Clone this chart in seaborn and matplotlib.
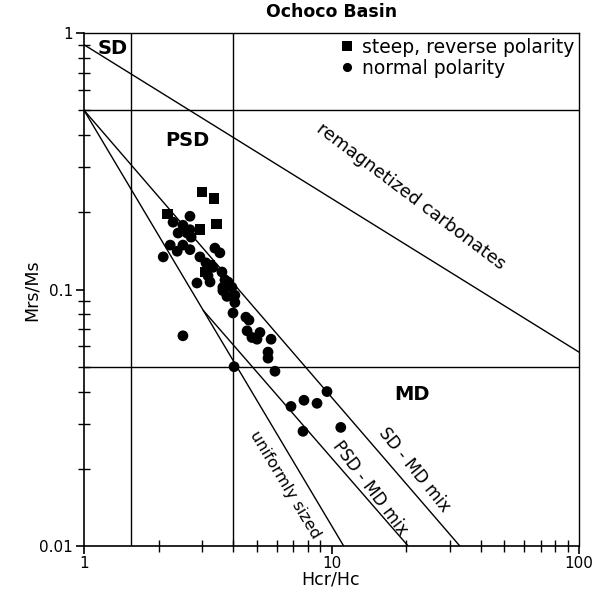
import numpy as np
import pandas as pd
import matplotlib
matplotlib.use("Agg")
import matplotlib.pyplot as plt
import seaborn as sns
from matplotlib.ticker import FixedLocator, NullFormatter

# ---------------- data ----------------
sq_hcr = [2.17, 3.00, 3.35, 3.42, 2.94, 3.08, 3.23]
sq_mrs = [0.197, 0.240, 0.227, 0.180, 0.171, 0.117, 0.124]

circ_hcr = [2.68, 2.29, 2.51, 2.40, 2.61, 2.71, 2.51, 2.38, 2.68, 2.09, 2.94, 2.23,
            2.68, 3.38, 3.54, 3.11, 3.32, 3.17, 3.61, 3.23, 3.71, 3.64, 3.96, 2.86,
            3.82, 3.64, 4.07, 3.78, 4.07, 4.00, 4.51, 4.64, 4.56, 4.77, 5.14, 5.00,
            5.70, 5.54, 5.54, 5.91, 4.04, 2.51, 9.59, 7.74, 8.74, 6.86, 7.67, 10.9]
circ_mrs = [0.193, 0.183, 0.178, 0.166, 0.166, 0.160, 0.149, 0.141, 0.143, 0.134, 0.134, 0.149,
            0.171, 0.145, 0.139, 0.127, 0.122, 0.113, 0.117, 0.107, 0.109, 0.102, 0.102, 0.106,
            0.107, 0.099, 0.095, 0.094, 0.089, 0.081, 0.078, 0.076, 0.069, 0.065, 0.068, 0.064,
            0.064, 0.057, 0.054, 0.048, 0.050, 0.066, 0.040, 0.037, 0.036, 0.035, 0.028, 0.029]

group_labels = ["steep, reverse polarity", "normal polarity"]

# domain boundaries
hcr_bounds = [1.55, 4.0]
mrs_bounds = [0.5, 0.05]

# trend lines (end points)
remag_x, remag_y = [1, 100], [0.9, 0.057]
uniform_x, uniform_y = [1, 11.2], [0.5, 0.01]
psdmd_x, psdmd_y = [3.03, 20.4], [0.083, 0.01]
sdmd_x, sdmd_y = [1, 33], [0.5, 0.01]

x_ticks = [1, 10, 100]
x_ticklabels = ["1", "10", "100"]
y_ticks = [0.01, 0.1, 1]
y_ticklabels = ["0.01", "0.1", "1"]

# ---------------- figure ----------------
sns.set_theme(style="white")
plt.rcParams["font.family"] = ["DejaVu Sans"]
plt.rcParams["text.color"] = "black"
plt.rcParams["axes.labelcolor"] = "black"
plt.rcParams["xtick.color"] = "black"
plt.rcParams["ytick.color"] = "black"

W, H = 600, 592
fig = plt.figure(figsize=(W / 100, H / 100), dpi=100)
ax = fig.add_axes([84 / W, 1 - 546 / H, (579 - 84) / W, (546 - 33) / H])
ax.set_xscale("log")
ax.set_yscale("log")
ax.set_xlim(1, 100)
ax.set_ylim(0.01, 1)

lw = 1.0
for xv in hcr_bounds:
    ax.axvline(xv, color="black", lw=lw, zorder=1)
for yv in mrs_bounds:
    ax.axhline(yv, color="black", lw=lw, zorder=1)
for xs, ys in [(remag_x, remag_y), (uniform_x, uniform_y), (psdmd_x, psdmd_y), (sdmd_x, sdmd_y)]:
    sns.lineplot(x=xs, y=ys, color="black", lw=lw, ax=ax, zorder=1, estimator=None, sort=False)

df = pd.DataFrame({
    "hcr": circ_hcr + sq_hcr,
    "mrs": circ_mrs + sq_mrs,
    "group": [group_labels[1]] * len(circ_hcr) + [group_labels[0]] * len(sq_hcr),
})
sns.scatterplot(data=df, x="hcr", y="mrs", style="group", style_order=group_labels,
                markers={group_labels[0]: "s", group_labels[1]: "o"},
                color="black", s=60, linewidth=0, ax=ax, zorder=3)

leg = ax.legend(loc="upper right", frameon=False, fontsize=13.5, handletextpad=0.0,
                borderaxespad=0.0, borderpad=0.25, labelspacing=0.1, markerscale=0.85,
                handlelength=1.6)

# ticks
ax.xaxis.set_major_locator(FixedLocator(x_ticks))
ax.set_xticklabels(x_ticklabels)
ax.yaxis.set_major_locator(FixedLocator(y_ticks))
ax.set_yticklabels(y_ticklabels)
ax.xaxis.set_minor_locator(FixedLocator([2, 3, 4, 5, 6, 7, 8, 9, 20, 30, 40, 50, 60, 70, 80, 90]))
ax.yaxis.set_minor_locator(FixedLocator([0.02, 0.03, 0.04, 0.05, 0.06, 0.07, 0.08, 0.09,
                                         0.2, 0.3, 0.4, 0.5, 0.6, 0.7, 0.8, 0.9]))
ax.xaxis.set_minor_formatter(NullFormatter())
ax.yaxis.set_minor_formatter(NullFormatter())
ax.tick_params(which="major", direction="out", length=6, width=1.2, labelsize=11,
               bottom=True, left=True, top=False, right=False, pad=2, color="black")
ax.tick_params(axis="x", which="major", pad=1)
ax.tick_params(which="minor", direction="inout", length=9, width=1.0,
               bottom=True, left=True, top=False, right=False, color="black")
for sp in ax.spines.values():
    sp.set_color("black")
    sp.set_linewidth(1.2)
ax.spines["top"].set_linewidth(1.0)
ax.spines["right"].set_linewidth(1.0)

ax.set_xlabel("Hcr/Hc", fontsize=12.5)
ax.set_ylabel("Mrs/Ms", fontsize=12.5)
ax.xaxis.set_label_coords((331 - 84) / 495, (546 - 580) / 513)
ax.xaxis.label.set_verticalalignment("center")
ax.yaxis.set_label_coords((32 - 84) / 495, (546 - 290) / 513)
ax.yaxis.label.set_verticalalignment("center")

fig.text(0.5 * (84 + 579) / W, 1 - 12 / H, "Ochoco Basin", ha="center", va="center",
         fontsize=12.5, fontweight="bold")

# region / line labels (placed in pixel coordinates of the figure)
def ptext(px, py, s, **kw):
    fig.text(px / W, 1 - py / H, s, ha="center", va="center", **kw)

ptext(113, 48, "SD", fontsize=14, fontweight="bold")
ptext(187, 140, "PSD", fontsize=14, fontweight="bold")
ptext(412, 395, "MD", fontsize=14, fontweight="bold")
ptext(411, 196, "remagnetized carbonates", fontsize=13, rotation=-37)
ptext(414, 470, "SD - MD mix", fontsize=12, rotation=-51)
ptext(370, 488, "PSD - MD mix", fontsize=12, rotation=-53)
ptext(285, 485, "uniformly sized", fontsize=11.5, rotation=-59)

fig.savefig("out.png", dpi=100)
